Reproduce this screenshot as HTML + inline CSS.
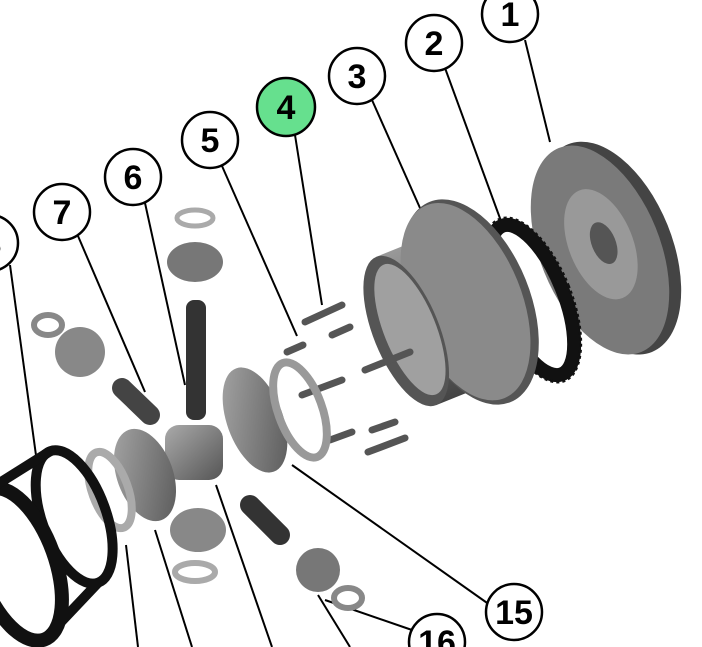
<!DOCTYPE html>
<html><head><style>
html,body{margin:0;padding:0;background:#fff;width:702px;height:647px;overflow:hidden}
svg{display:block}
text{font-family:"Liberation Sans",sans-serif;font-weight:bold;font-size:34px;text-anchor:middle;fill:#000}
</style></head><body>
<svg width="702" height="647" viewBox="0 0 702 647">
<defs>
<linearGradient id="g" x1="0" y1="0" x2="1" y2="1"><stop offset="0" stop-color="#aaa"/><stop offset="1" stop-color="#555"/></linearGradient>
<linearGradient id="g2" x1="0" y1="0" x2="0" y2="1"><stop offset="0" stop-color="#999"/><stop offset="1" stop-color="#444"/></linearGradient>
</defs>
<g stroke="#000" stroke-width="2" fill="none">
<line x1="525" y1="40" x2="550" y2="142"/>
<line x1="445" y1="68" x2="505" y2="232"/>
<line x1="372" y1="100" x2="420" y2="208"/>
<line x1="295" y1="135" x2="322" y2="305"/>
<line x1="222" y1="166" x2="297" y2="336"/>
<line x1="145" y1="203" x2="185" y2="385"/>
<line x1="78" y1="236" x2="145" y2="392"/>
<line x1="10" y1="265" x2="38" y2="470"/>
<line x1="490" y1="605" x2="292" y2="465"/>
<line x1="412" y1="630" x2="325" y2="600"/>
<line x1="126" y1="545" x2="138" y2="647"/>
<line x1="155" y1="530" x2="192" y2="647"/>
<line x1="216" y1="485" x2="272" y2="647"/>
<line x1="318" y1="595" x2="350" y2="647"/>
</g>
<!-- part 1 flange -->
<g transform="rotate(-22 600 250)">
<ellipse cx="610" cy="252" rx="62" ry="112" fill="#444"/>
<ellipse cx="600" cy="250" rx="60" ry="110" fill="#7a7a7a"/>
<ellipse cx="603" cy="245" rx="32" ry="58" fill="#999"/>
<ellipse cx="606" cy="245" rx="12" ry="22" fill="#555"/>
</g>
<!-- part 2 ring -->
<g transform="rotate(-22 532 300)">
<ellipse cx="532" cy="300" rx="32" ry="80" fill="none" stroke="#111" stroke-width="14"/>
<ellipse cx="532" cy="300" rx="39" ry="87" fill="none" stroke="#111" stroke-width="3" stroke-dasharray="3 3"/>
</g>
<!-- part 3 housing -->
<g transform="rotate(-22 470 302)">
<rect x="400" y="225" width="70" height="160" fill="url(#g2)"/>
<ellipse cx="470" cy="302" rx="60" ry="108" fill="#555"/>
<ellipse cx="466" cy="300" rx="56" ry="104" fill="#8a8a8a"/>
<ellipse cx="400" cy="305" rx="33" ry="80" fill="#555"/>
<ellipse cx="404" cy="305" rx="26" ry="70" fill="#a0a0a0"/>
</g>
<!-- springs & pins -->
<g stroke="#555" stroke-width="7" stroke-linecap="round">
<line x1="305" y1="322" x2="342" y2="305"/>
<line x1="287" y1="352" x2="303" y2="345"/>
<line x1="332" y1="335" x2="350" y2="327"/>
<line x1="302" y1="395" x2="342" y2="380"/>
<line x1="330" y1="440" x2="352" y2="432"/>
<line x1="372" y1="430" x2="395" y2="422"/>
<line x1="368" y1="452" x2="405" y2="438"/>
<line x1="365" y1="370" x2="410" y2="352"/>
</g>
<!-- shaft -->
<rect x="186" y="300" width="20" height="120" rx="8" fill="#333"/>
<!-- side gears -->
<g transform="rotate(-20 255 420)"><ellipse cx="255" cy="420" rx="28" ry="55" fill="url(#g)"/></g>
<ellipse cx="300" cy="410" rx="22" ry="50" fill="none" stroke="#999" stroke-width="8" transform="rotate(-20 300 410)"/>
<rect x="165" y="425" width="58" height="55" rx="14" fill="url(#g)"/>
<ellipse cx="145" cy="475" rx="28" ry="48" fill="url(#g)" transform="rotate(-20 145 475)"/>
<ellipse cx="110" cy="490" rx="18" ry="40" fill="none" stroke="#aaa" stroke-width="8" transform="rotate(-20 110 490)"/>
<!-- small gears -->
<ellipse cx="195" cy="262" rx="28" ry="20" fill="#777"/>
<ellipse cx="195" cy="218" rx="18" ry="8" fill="none" stroke="#aaa" stroke-width="5"/>
<ellipse cx="80" cy="352" rx="25" ry="25" fill="#888"/>
<ellipse cx="48" cy="325" rx="14" ry="10" fill="none" stroke="#888" stroke-width="6"/>
<ellipse cx="198" cy="530" rx="28" ry="22" fill="#888"/>
<ellipse cx="195" cy="572" rx="20" ry="9" fill="none" stroke="#aaa" stroke-width="6"/>
<ellipse cx="318" cy="570" rx="22" ry="22" fill="#777"/>
<ellipse cx="348" cy="598" rx="14" ry="10" fill="none" stroke="#888" stroke-width="6"/>
<!-- pins -->
<line x1="122" y1="388" x2="150" y2="415" stroke="#444" stroke-width="20" stroke-linecap="round"/>
<line x1="250" y1="505" x2="280" y2="535" stroke="#333" stroke-width="20" stroke-linecap="round"/>
<!-- cage 8 -->
<g transform="rotate(-20 40 540)" fill="none" stroke="#111" stroke-width="10">
<ellipse cx="80" cy="530" rx="32" ry="70"/>
<ellipse cx="10" cy="555" rx="38" ry="80" stroke-width="14"/>
<line x1="80" y1="460" x2="10" y2="475"/><line x1="80" y1="600" x2="10" y2="635"/>
</g>
<!-- labels -->
<g stroke="#000" stroke-width="2.5" fill="#fff">
<circle cx="510" cy="14" r="28"/>
<circle cx="434" cy="43" r="28"/>
<circle cx="357" cy="76" r="28"/>
<circle cx="286" cy="107" r="29" fill="#66e08e"/>
<circle cx="210" cy="140" r="28"/>
<circle cx="133" cy="177" r="28"/>
<circle cx="62" cy="212" r="28"/>
<circle cx="-10" cy="243" r="28"/>
<circle cx="514" cy="612" r="28"/>
<circle cx="437" cy="642" r="28"/>
</g>
<text x="510" y="26">1</text>
<text x="434" y="55">2</text>
<text x="357" y="88">3</text>
<text x="286" y="119">4</text>
<text x="210" y="152">5</text>
<text x="133" y="189">6</text>
<text x="62" y="224">7</text>
<text x="-8" y="255">8</text>
<text x="514" y="624">15</text>
<text x="437" y="654">16</text>
</svg>
</body></html>
